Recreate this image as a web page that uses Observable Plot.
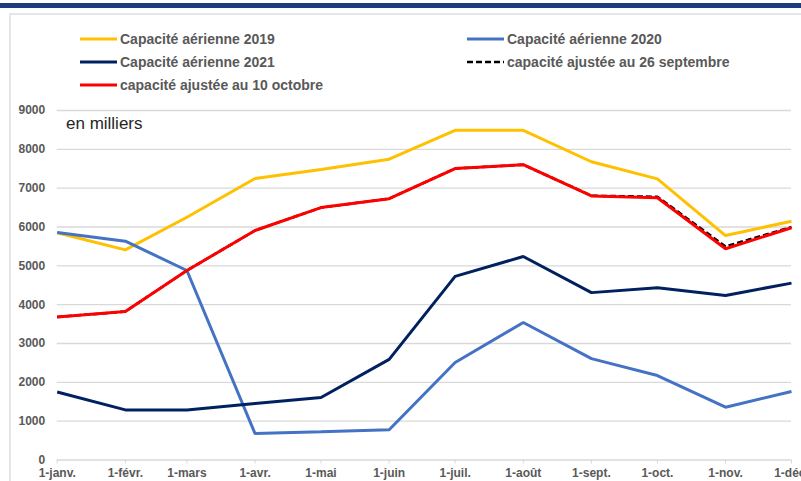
<!DOCTYPE html>
<html>
<head>
<meta charset="utf-8">
<script src="https://cdn.jsdelivr.net/npm/d3@7"></script>
<script src="https://cdn.jsdelivr.net/npm/@observablehq/plot@0.6"></script>
<style>
  html, body { margin: 0; padding: 0; background: #fff; }
  #wrap { position: relative; width: 801px; height: 481px; overflow: hidden; font-family: "Liberation Sans", Arial, sans-serif; }
  #band { position: absolute; left: 0; top: 3px; width: 801px; height: 5px; background: #1c3c7e; }
  #topline { position: absolute; left: 9px; top: 13px; width: 792px; height: 2px; background: #e6e6e6; }
  #leftline { position: absolute; left: 9px; top: 13px; width: 2px; height: 468px; background: #e6e6e6; }
  #chart { position: absolute; left: 0; top: 0; }
  #chart svg text { fill: #595959; }
  .leg { position: absolute; display: flex; align-items: center; font-weight: bold; font-size: 14px; color: #595959; white-space: nowrap; }
  .leg svg { margin-right: 3px; }
  #unit { position: absolute; left: 66px; top: 114px; font-size: 17px; color: #262626; }
</style>
</head>
<body>
<div id="wrap">
  <div id="band"></div>
  <div id="topline"></div>
  <div id="leftline"></div>
  <div id="chart"></div>
  <div id="legend"></div>
  <div id="unit">en milliers</div>
</div>
<script>
const months = ["2021-01-01","2021-02-01","2021-03-01","2021-04-01","2021-05-01","2021-06-01",
                "2021-07-01","2021-08-01","2021-09-01","2021-10-01","2021-11-01","2021-12-01"];
const monthLabels = ["1-janv.","1-févr.","1-mars","1-avr.","1-mai","1-juin",
                     "1-juil.","1-août","1-sept.","1-oct.","1-nov.","1-déc."];
const yTicks = [0,1000,2000,3000,4000,5000,6000,7000,8000,9000];

const cap2019 = [5850, 5410, 6250, 7250, 7480, 7745, 8490, 8490, 7680, 7240, 5780, 6150];
const cap2020 = [5860, 5635, 4880, 680, 725, 778, 2510, 3540, 2610, 2175, 1360, 1765];
const cap2021 = [1750, 1290, 1285, 1455, 1610, 2590, 4730, 5240, 4310, 4435, 4237, 4555];
const adj26sep = [3680, 3825, 4880, 5910, 6500, 6730, 7505, 7605, 6805, 6780, 5500, 6000];
const adj10oct = [3680, 3825, 4880, 5910, 6500, 6730, 7505, 7605, 6800, 6755, 5440, 5980];

const seriesNames = ["Capacité aérienne 2019","Capacité aérienne 2020","Capacité aérienne 2021",
                     "capacité ajustée au 26 septembre","capacité ajustée au 10 octobre"];

const parse = d3.utcParse("%Y-%m-%d");
const dates = months.map(parse);
const labelMap = new Map(dates.map((d, i) => [+d, monthLabels[i]]));
const rows = vals => vals.map((v, i) => ({date: dates[i], value: v}));

const styles = [
  {stroke: "#FFC000", strokeWidth: 3},
  {stroke: "#4472C4", strokeWidth: 3},
  {stroke: "#002060", strokeWidth: 3},
  {stroke: "#000000", strokeWidth: 2.5, strokeDasharray: "6,3"},
  {stroke: "#FF0000", strokeWidth: 3}
];
const seriesValues = [cap2019, cap2020, cap2021, adj26sep, adj10oct];

const plot = Plot.plot({
  width: 801,
  height: 481,
  marginLeft: 56.7,
  marginRight: 10,
  marginTop: 110,
  marginBottom: 21.5,
  style: {
    background: "transparent",
    fontFamily: "'Liberation Sans', Arial, sans-serif",
    fontSize: "12px",
    fontWeight: "bold",
    color: "#d9d9d9",
    overflow: "hidden"
  },
  x: {
    type: "utc",
    domain: [dates[0], dates[11]],
    ticks: dates,
    tickFormat: d => labelMap.get(+d),
    tickSize: 4,
    tickPadding: 4,
    label: null
  },
  y: {
    domain: [0, 9000],
    ticks: yTicks,
    tickFormat: d => String(d),
    tickSize: 0,
    tickPadding: 12,
    label: null
  },
  marks: [
    Plot.ruleY(yTicks, {stroke: "#d9d9d9", strokeWidth: 1.3}),
    ...seriesValues.map((vals, i) =>
      Plot.line(rows(vals), {x: "date", y: "value", ...styles[i], strokeLinejoin: "miter", strokeLinecap: "butt"}))
  ]
});
document.getElementById("chart").appendChild(plot);

// Legend (HTML)
const legendPos = [
  {left: 80, top: 39}, {left: 467, top: 39}, {left: 80, top: 62}, {left: 467, top: 62}, {left: 80, top: 85}
];
const legend = document.getElementById("legend");
seriesNames.forEach((name, i) => {
  const el = document.createElement("div");
  el.className = "leg";
  el.style.left = legendPos[i].left + "px";
  el.style.top = (legendPos[i].top - 8) + "px";
  el.style.height = "16px";
  const s = styles[i];
  el.innerHTML = `<svg width="37" height="6"><line x1="0" x2="37" y1="3" y2="3" stroke="${s.stroke}" stroke-width="${s.strokeWidth}" ${s.strokeDasharray ? `stroke-dasharray="${s.strokeDasharray}"` : ""}/></svg><span>${name}</span>`;
  legend.appendChild(el);
});
</script>
</body>
</html>
